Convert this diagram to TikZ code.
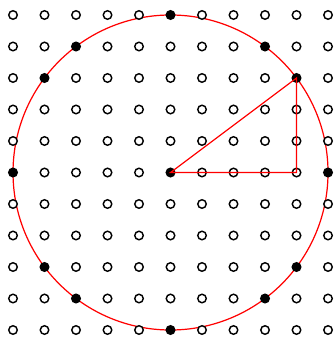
\documentclass[tikz,border=0pt]{standalone}
\begin{document}
\begin{tikzpicture}[
  gpt/.style={circle,draw=black,line width=1.3pt,fill=white,inner sep=0pt,minimum size=0.27cm},
  onpt/.style={circle,draw=black,line width=1.3pt,fill=black,inner sep=0pt,minimum size=0.27cm},
  redline/.style={red,line width=1.1pt}
]
\useasboundingbox (-5.413,-5.222) rectangle (5.222,5.476);
\draw[redline] (0,0) circle (5);
\foreach \x in {-5,...,5}{
  \foreach \y in {-5,...,5}{
    \pgfmathtruncatemacro{\r}{\x*\x+\y*\y}
    \ifnum\r=25
      \node[onpt] (p\x\y) at (\x,\y) {};
    \else
      \ifnum\r=0
        \node[onpt] (p\x\y) at (\x,\y) {};
      \else
        \node[gpt] (p\x\y) at (\x,\y) {};
      \fi
    \fi
  }
}
\draw[redline] (p00.center) -- (p40.center) -- (p43.center) -- cycle;
\end{tikzpicture}
\end{document}
